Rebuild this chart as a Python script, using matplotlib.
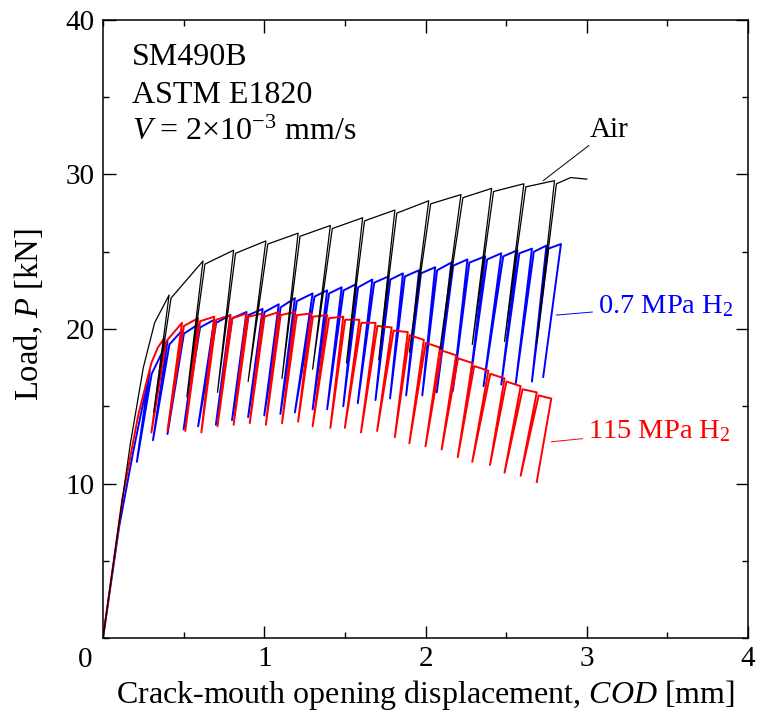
import matplotlib
matplotlib.use('Agg')
import matplotlib.pyplot as plt
from matplotlib.ticker import MultipleLocator

plt.rcParams['font.family'] = ['Liberation Serif', 'DejaVu Serif']
plt.rcParams['mathtext.fontset'] = 'custom'
plt.rcParams['mathtext.rm'] = 'Liberation Serif'
plt.rcParams['mathtext.it'] = 'Liberation Serif:italic'

# ---- data (COD in mm, load in kN) ----
# Air
air_rise_cod = [0.0, 0.10, 0.17, 0.25, 0.32]
air_rise_load = [0.0, 7.5, 12.6, 17.5, 20.4]
air_peak_cod = [0.41, 0.62, 0.81, 1.01, 1.21, 1.41, 1.61, 1.81, 2.02, 2.22, 2.41, 2.61, 2.80]
air_peak_load = [22.2, 24.4, 25.1, 25.7, 26.2, 26.7, 27.2, 27.7, 28.3, 28.7, 29.1, 29.4, 29.6]
air_min_cod = [0.315, 0.52, 0.71, 0.90, 1.11, 1.30, 1.51, 1.71, 1.90, 2.09, 2.29, 2.49, 2.69]
air_min_load = [14.6, 15.6, 15.9, 16.6, 16.8, 17.4, 17.8, 18.0, 18.5, 18.7, 19.0, 19.2, 19.1]
air_tail_cod = [2.90, 3.00]
air_tail_load = [29.8, 29.7]

# 0.7 MPa H2
h07_rise_cod = [0.0, 0.10, 0.19]
h07_rise_load = [0.0, 7.2, 12.2]
h07_peak_cod = [0.29, 0.40, 0.49, 0.59, 0.69, 0.79, 0.89, 0.99, 1.09, 1.19, 1.30, 1.39, 1.48,
                1.57, 1.67, 1.77, 1.86, 1.96, 2.06, 2.16, 2.26, 2.37, 2.47, 2.57, 2.66, 2.75, 2.84]
h07_peak_load = [17.3, 19.2, 19.9, 20.3, 20.6, 20.9, 21.1, 21.3, 21.6, 22.0, 22.3, 22.5, 22.7,
                 22.9, 23.2, 23.4, 23.6, 23.8, 24.0, 24.3, 24.5, 24.7, 24.9, 25.1, 25.2, 25.4, 25.5]
h07_min_cod = [0.21, 0.31, 0.40, 0.50, 0.59, 0.70, 0.80, 0.90, 1.00, 1.10, 1.19, 1.30, 1.39,
               1.49, 1.58, 1.69, 1.78, 1.88, 1.98, 2.07, 2.17, 2.27, 2.36, 2.47, 2.56, 2.66, 2.73]
h07_min_load = [11.4, 12.8, 13.2, 13.5, 13.7, 13.8, 14.1, 14.3, 14.4, 14.5, 14.6, 14.8, 14.8,
                15.0, 15.2, 15.4, 15.5, 15.7, 15.7, 15.9, 16.0, 16.1, 16.3, 16.4, 16.5, 16.6, 16.9]

# 115 MPa H2
h115_rise_cod = [0.0, 0.12, 0.22, 0.30, 0.34]
h115_rise_load = [0.0, 9.0, 14.5, 17.8, 18.8]
h115_peak_cod = [0.38, 0.49, 0.59, 0.69, 0.79, 0.89, 0.99, 1.09, 1.19, 1.29, 1.39, 1.49, 1.59,
                 1.69, 1.79, 1.89, 1.99, 2.09, 2.19, 2.29, 2.39, 2.49, 2.59, 2.69, 2.78]
h115_peak_load = [19.4, 20.4, 20.7, 20.8, 20.9, 21.0, 21.0, 21.1, 21.1, 21.0, 20.9, 20.8, 20.6,
                  20.4, 20.1, 19.8, 19.3, 18.8, 18.3, 17.8, 17.3, 16.8, 16.3, 15.9, 15.5]
h115_min_cod = [0.30, 0.40, 0.51, 0.61, 0.71, 0.81, 0.91, 1.01, 1.11, 1.21, 1.30, 1.41, 1.50,
                1.60, 1.70, 1.81, 1.90, 2.00, 2.10, 2.20, 2.29, 2.40, 2.49, 2.59, 2.69]
h115_min_load = [13.3, 13.4, 13.4, 13.3, 13.7, 13.8, 13.9, 13.8, 13.9, 14.0, 13.7, 13.6, 13.6,
                 13.3, 13.4, 13.0, 12.6, 12.4, 12.2, 11.7, 11.4, 11.2, 10.7, 10.5, 10.1]

x_ticks = [1, 2, 3, 4]
y_ticks = [10, 20, 30, 40]


def trace(rise_x, rise_y, peak_x, peak_y, min_x, min_y, tail_x=(), tail_y=(), gap=0.012):
    # envelope -> unload to min -> reload next to the unload line -> next peak
    xs, ys = list(rise_x), list(rise_y)
    n = len(peak_x)
    for i in range(n):
        xs += [peak_x[i], min_x[i]]
        ys += [peak_y[i], min_y[i]]
        if i < n - 1 or len(tail_x):
            xs.append(peak_x[i] + gap)
            ys.append(peak_y[i] - 0.2)
    xs += list(tail_x)
    ys += list(tail_y)
    return xs, ys


fig = plt.figure(figsize=(7.57, 7.15), dpi=100)
ax = fig.add_axes([103/757, 1 - 638/715, 645/757, 618/715])

x, y = trace(h07_rise_cod, h07_rise_load, h07_peak_cod, h07_peak_load, h07_min_cod, h07_min_load)
ax.plot(x, y, color='#0000ff', lw=1.4)
x, y = trace(h115_rise_cod, h115_rise_load, h115_peak_cod, h115_peak_load, h115_min_cod, h115_min_load)
ax.plot(x, y, color='#ff0000', lw=1.4)
x, y = trace(air_rise_cod, air_rise_load, air_peak_cod, air_peak_load, air_min_cod, air_min_load,
             air_tail_cod, air_tail_load)
ax.plot(x, y, color='black', lw=0.9)

ax.set_xlim(0, 4)
ax.set_ylim(0, 40)
ax.set_xticks(x_ticks)
ax.set_yticks(y_ticks)
ax.xaxis.set_minor_locator(MultipleLocator(0.5))
ax.yaxis.set_minor_locator(MultipleLocator(5))
ax.tick_params(which='both', direction='in', top=True, right=True, labelsize=21, width=1.0)
ax.tick_params(which='major', length=9, pad=6)
ax.tick_params(which='minor', length=4.5)
for s in ax.spines.values():
    s.set_linewidth(1.1)
ax.text(-0.028, -0.015, '0', transform=ax.transAxes, ha='center', va='top', fontsize=21)

ax.set_xlabel('Crack-mouth opening displacement, $COD$ [mm]', fontsize=23, va='top')
ax.xaxis.set_label_coords(0.5, -0.064)
ax.set_ylabel('Load, $P$ [kN]', fontsize=23.5, va='center')
ax.yaxis.set_label_coords(-0.116, 0.523)

ax.text(0.045, 0.927, 'SM490B', transform=ax.transAxes, fontsize=23, va='baseline')
ax.text(0.045, 0.866, 'ASTM E1820', transform=ax.transAxes, fontsize=23, va='baseline')
ax.text(0.045, 0.806, r'$V$ = 2$\times$10$^{-3}$ mm/s', transform=ax.transAxes, fontsize=23,
        va='baseline')

ax.annotate('Air', xy=(2.73, 29.6), xytext=(3.02, 32.9), fontsize=21, color='black',
            ha='left', va='center', arrowprops=dict(arrowstyle='-', color='black', lw=0.7,
                                                    shrinkA=0, shrinkB=0))
ax.annotate('0.7 MPa H$_2$', xy=(2.81, 20.9), xytext=(3.07, 21.5), fontsize=20.5, color='#0000ff',
            ha='left', va='center', arrowprops=dict(arrowstyle='-', color='#0000ff', lw=0.7,
                                                    shrinkA=2, shrinkB=0))
ax.annotate('115 MPa H$_2$', xy=(2.78, 12.7), xytext=(3.01, 13.4), fontsize=20.5, color='#ff0000',
            ha='left', va='center', arrowprops=dict(arrowstyle='-', color='#ff0000', lw=0.7,
                                                    shrinkA=2, shrinkB=0))

fig.savefig('out.png', dpi=100)
